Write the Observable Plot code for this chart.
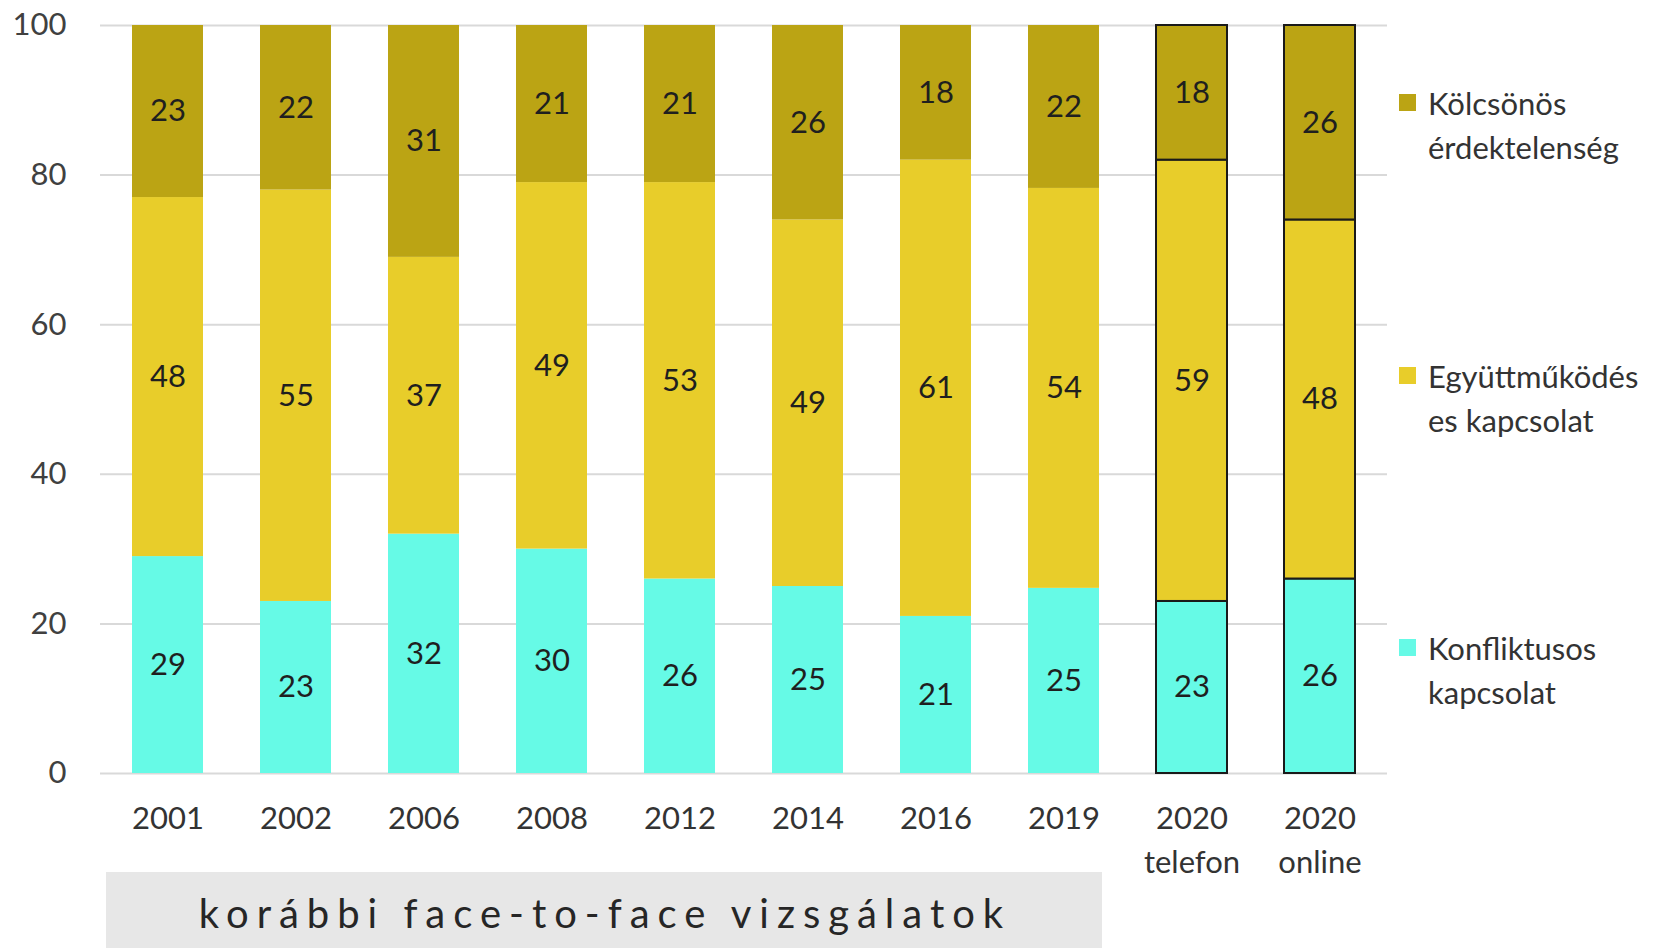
<!DOCTYPE html>
<html>
<head>
<meta charset="utf-8">
<script src="https://cdn.jsdelivr.net/npm/d3@7"></script>
<script src="https://cdn.jsdelivr.net/npm/@observablehq/plot@0.6"></script>
<style>
  html, body { margin: 0; padding: 0; background: white; overflow: hidden; }
  #wrap { position: relative; width: 1667px; height: 948px; font-family: Lato, "Open Sans", sans-serif; }
  #chart { position: absolute; left: 0; top: 0; }
  #box { position: absolute; left: 106px; top: 872px; width: 996px; height: 76px; background: #e7e7e7;
         font-size: 40px; letter-spacing: 8px; color: #262626; text-align: center; line-height: 82px;
         padding-left: 2px; box-sizing: border-box; overflow: hidden; }
  .leg { position: absolute; left: 1399px; font-size: 31px; line-height: 44px; color: #333; }
  .leg .sw { position: absolute; left: 0; top: 13px; width: 17px; height: 17px; }
  .leg .tx { position: absolute; left: 29px; top: 0; white-space: nowrap; }
</style>
</head>
<body>
<div id="wrap">
  <div id="chart"></div>
  <div id="box">korábbi face-to-face vizsgálatok</div>
  <div id="legend"></div>
</div>
<script>
const categories = ["2001", "2002", "2006", "2008", "2012", "2014", "2016", "2019", "2020 telefon", "2020 online"];
const konfliktusos = [29, 23, 32, 30, 26, 25, 21, 25, 23, 26];
const egyuttmukodes = [48, 55, 37, 49, 53, 49, 61, 54, 59, 48];
const kolcsonos = [23, 22, 31, 21, 21, 26, 18, 22, 18, 26];
const seriesNames = ["Konfliktusos kapcsolat", "Együttműködés es kapcsolat", "Kölcsönös érdektelenség"];
const legendLines = [["Konfliktusos", "kapcsolat"], ["Együttműködés", "es kapcsolat"], ["Kölcsönös", "érdektelenség"]];
const seriesColors = ["#66FAE6", "#E8CD2A", "#BBA414"];
const outlined = ["2020 telefon", "2020 online"];
const yTicks = [0, 0.2, 0.4, 0.6, 0.8, 1];

const seriesValues = [konfliktusos, egyuttmukodes, kolcsonos];
const rows = [];
categories.forEach((c, i) => {
  seriesNames.forEach((s, j) => rows.push({cat: c, series: s, value: seriesValues[j][i]}));
});
const outlinedRows = rows.filter(d => outlined.includes(d.cat));
const plainRows = rows.filter(d => !outlined.includes(d.cat));

const chart = Plot.plot({
  width: 1667,
  height: 948,
  marginLeft: 100,
  marginRight: 280,
  marginTop: 25,
  marginBottom: 175,
  style: {fontFamily: "Lato, 'Open Sans', sans-serif", fontSize: "31px", color: "#333", background: "white"},
  x: {domain: categories, paddingInner: 0.448, paddingOuter: 0.224, label: null},
  y: {domain: [0, 1], label: null},
  color: {domain: seriesNames, range: seriesColors},
  marks: [
    Plot.gridY(yTicks, {stroke: "#d9d9d9", strokeOpacity: 1, strokeWidth: 2}),
    Plot.barY(plainRows, Plot.stackY({offset: "normalize", x: "cat", y: "value", z: "series", fill: "series"})),
    Plot.barY(outlinedRows, Plot.stackY({offset: "normalize", x: "cat", y: "value", z: "series", fill: "series", stroke: "#1a1a1a", strokeWidth: 2})),
    Plot.text(rows, Plot.stackY({offset: "normalize", x: "cat", y: "value", z: "series", text: d => String(d.value), fill: "#1f1f1f", fontSize: 31})),
    Plot.axisY(yTicks, {tickSize: 0, tickPadding: 34, tickFormat: d => String(Math.round(d * 100)), fill: "#404040", fontSize: 31, label: null}),
    Plot.axisX({tickSize: 0, tickPadding: 24, lineHeight: 1.42, tickFormat: d => d.replace(" ", "\n"), fill: "#333", fontSize: 31, label: null})
  ]
});
document.getElementById("chart").appendChild(chart);

const legendTops = [626, 354, 81];
const legend = document.getElementById("legend");
seriesNames.forEach((s, j) => {
  const e = document.createElement("div");
  e.className = "leg";
  e.style.top = legendTops[j] + "px";
  e.innerHTML = `<div class="sw" style="background:${seriesColors[j]}"></div><div class="tx">${legendLines[j].join("<br>")}</div>`;
  legend.appendChild(e);
});
</script>
</body>
</html>
